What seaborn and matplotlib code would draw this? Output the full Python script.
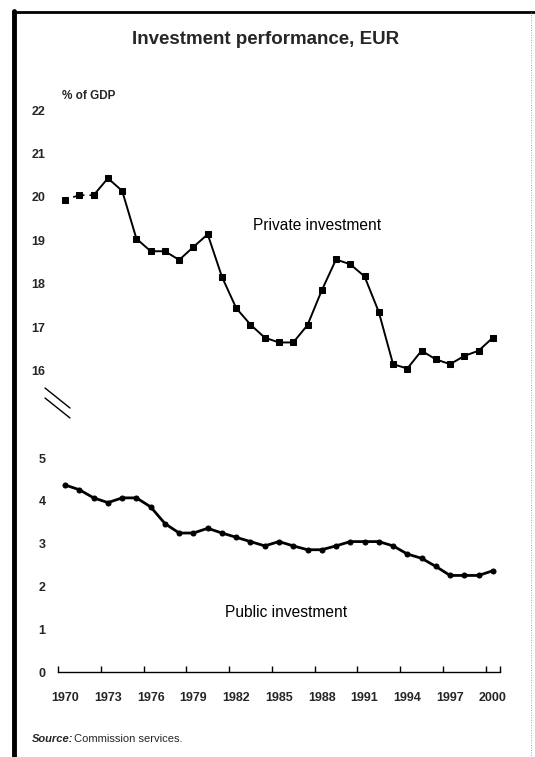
import matplotlib
matplotlib.use("Agg")
import matplotlib.pyplot as plt
from matplotlib.lines import Line2D
import seaborn as sns
import pandas as pd

years = list(range(1970, 2001))
private_investment = [19.94, 20.04, 20.04, 20.43, 20.14, 19.04, 18.75, 18.75, 18.55, 18.85,
                      19.14, 18.16, 17.44, 17.06, 16.76, 16.65, 16.65, 17.05, 17.85, 18.56,
                      18.45, 18.17, 17.35, 16.15, 16.05, 16.46, 16.26, 16.15, 16.34, 16.46, 16.76]
public_investment = [4.37, 4.26, 4.07, 3.96, 4.07, 4.07, 3.86, 3.47, 3.25, 3.25,
                     3.36, 3.25, 3.15, 3.05, 2.95, 3.05, 2.95, 2.86, 2.86, 2.95,
                     3.05, 3.05, 3.05, 2.95, 2.76, 2.66, 2.47, 2.26, 2.26, 2.26, 2.37]
upper_ticks = [16, 17, 18, 19, 20, 21, 22]
lower_ticks = [0, 1, 2, 3, 4, 5]
label_years = [1970, 1973, 1976, 1979, 1982, 1985, 1988, 1991, 1994, 1997, 2000]

df = pd.DataFrame({"year": years, "private": private_investment, "public": public_investment})

sns.set_theme(style="white")
plt.rcParams["font.family"] = ["Liberation Sans", "DejaVu Sans"]

W, H = 535, 757
fig = plt.figure(figsize=(W / 100, H / 100), dpi=100)
fig.patch.set_facecolor("white")

def fx(px):
    return px / W

def fy(py):
    return 1 - py / H

left, right = 58, 500
ax_top = fig.add_axes([fx(left), fy(392.4), fx(right - left), fy(104) - fy(392.4)])
ax_bot = fig.add_axes([fx(left), fy(672.3), fx(right - left), fy(436.6) - fy(672.3)])

# Private investment: dashed early segment, then solid
early = df[df.year <= 1972]
late = df[df.year >= 1972]
sns.lineplot(data=early, x="year", y="private", ax=ax_top, color="black", lw=1.2,
             linestyle=(0, (2, 3)), marker="s", markersize=3.8, markeredgecolor="black")
sns.lineplot(data=late, x="year", y="private", ax=ax_top, color="black", lw=1.4,
             marker="s", markersize=3.8, markeredgecolor="black")

sns.lineplot(data=df, x="year", y="public", ax=ax_bot, color="black", lw=2.0,
             marker="o", markersize=3.6, markeredgecolor="black")

for ax in (ax_top, ax_bot):
    ax.set_facecolor("none")
    ax.set_xlim(1969.5, 2000.5)
    ax.set_xlabel("")
    ax.set_ylabel("")
    for s in ("top", "right", "left", "bottom"):
        ax.spines[s].set_visible(False)
    ax.tick_params(axis="y", length=0, pad=9, labelsize=9)
    ax.grid(False)

ax_top.set_ylim(15.5, 22.14)
ax_top.set_yticks(upper_ticks)
ax_top.set_yticklabels([str(t) for t in upper_ticks], fontweight="bold")
ax_top.set_xticks([])

ax_bot.set_ylim(0, 5.5)
ax_bot.set_yticks(lower_ticks)
ax_bot.set_yticklabels([str(t) for t in lower_ticks], fontweight="bold")
ax_bot.spines["bottom"].set_visible(True)
ax_bot.spines["bottom"].set_color("black")
ax_bot.spines["bottom"].set_linewidth(1.0)
boundaries = [y - 0.5 for y in label_years] + [2000.5]
ax_bot.set_xticks(boundaries)
ax_bot.set_xticklabels([""] * len(boundaries))
ax_bot.tick_params(axis="x", which="major", direction="in", length=4, width=1, color="black", bottom=True)
ax_bot.set_xticks(label_years, minor=True)
ax_bot.set_xticklabels([str(y) for y in label_years], minor=True, fontweight="bold", fontsize=9)
ax_bot.tick_params(axis="x", which="minor", length=0, pad=14, bottom=True)

# Series labels
ax_top.text(1983.15, 19.35, "Private investment", fontsize=11.2, ha="left", va="center", color="black")
ax_bot.text(1985.5, 1.4, "Public investment", fontsize=11.2, ha="center", va="center", color="black")

# Title and unit label
fig.text(fx(266), fy(40), "Investment performance, EUR", fontsize=13.5, fontweight="bold",
         ha="center", va="center")
fig.text(fx(62), fy(96), "% of GDP", fontsize=8.5, fontweight="bold", ha="left", va="center")

# Source
fig.text(fx(32), fy(739), "Source:", fontsize=8, fontweight="bold", fontstyle="italic",
         ha="left", va="center")
fig.text(fx(74), fy(739), "Commission services.", fontsize=8, ha="left", va="center")

# Axis break marks
for dy in (0, 10):
    fig.add_artist(Line2D([fx(45), fx(70)], [fy(388 + dy), fy(408 + dy)], color="black", lw=1.0))

# Frame
fig.add_artist(Line2D([fx(14), fx(14)], [fy(11), 0], color="black", lw=3.5))
fig.add_artist(Line2D([fx(13), fx(535)], [fy(12), fy(12)], color="black", lw=2.0))
fig.add_artist(Line2D([fx(531), fx(531)], [fy(12), fy(757)], color="#888888", lw=0.6,
                      linestyle=(0, (1, 2))))

fig.savefig("out.png", dpi=100, facecolor="white")
